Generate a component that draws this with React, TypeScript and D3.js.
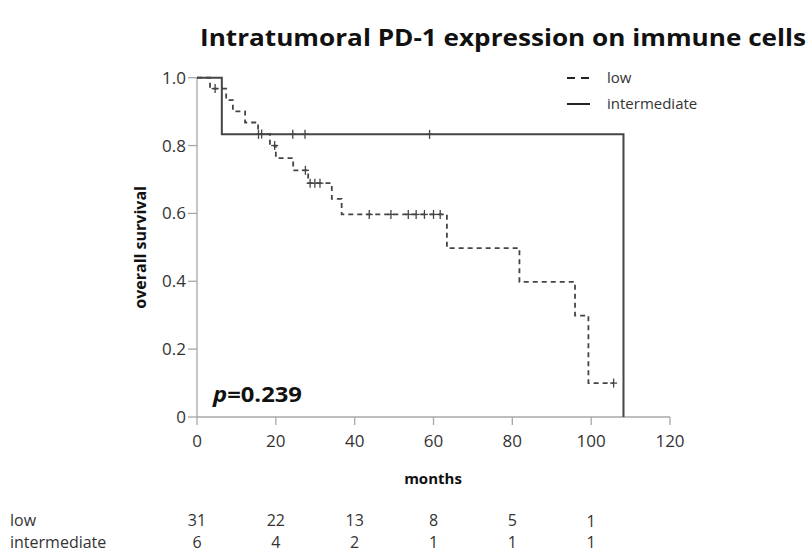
import React from "react";
import * as d3 from "d3";

// ---- data ----
const lowTimes = [0, 3.3, 7.4, 9.1, 12.2, 15.5, 18.5, 20.0, 24.4, 28.2, 34.2, 36.7, 63.4, 81.8, 95.9, 99.3];
const lowSurv = [1, 0.968, 0.934, 0.901, 0.868, 0.834, 0.8, 0.763, 0.727, 0.689, 0.643, 0.597, 0.498, 0.398, 0.299, 0.1];
const lowEnd = 105.7;
const lowCensor = [4.6, 16.4, 19.7, 27.5, 28.7, 29.9, 31.2, 43.7, 49.2, 53.6, 55.6, 57.7, 60.0, 61.7, 105.7];

const intTimes = [0, 6.3, 108.2];
const intSurv = [1, 0.833, 0];
const intEnd = 108.2;
const intCensor = [15.6, 24.3, 27.4, 59.0];

const xTicks = [0, 20, 40, 60, 80, 100, 120];
const yTicks = [0, 0.2, 0.4, 0.6, 0.8, 1.0];
const riskTimes = [0, 20, 40, 60, 80, 100];
const riskLow = [31, 22, 13, 8, 5, 1];
const riskInt = [6, 4, 2, 1, 1, 1];
const groupNames = ["low", "intermediate"];
const title = "Intratumoral PD-1 expression on immune cells";
const pText = "=0.239";

const FONT = "'Open Sans', 'DejaVu Sans', sans-serif";
const LINE = "#454545";
const AXIS = "#a8a8a8";
const TEXT = "#333333";

function stepPoints(times: number[], surv: number[], end: number) {
  const pts: [number, number][] = times.map((t, i) => [t, surv[i]]);
  pts.push([end, surv[surv.length - 1]]);
  return pts;
}
function survAt(times: number[], surv: number[], t: number) {
  let s = surv[0];
  for (let i = 0; i < times.length; i++) if (times[i] <= t) s = surv[i];
  return s;
}

export default function App() {
  const x = d3.scaleLinear().domain([0, 120]).range([197, 670]);
  const y = d3.scaleLinear().domain([0, 1]).range([417, 77.7]);
  const line = d3
    .line<[number, number]>()
    .x((d) => x(d[0]))
    .y((d) => y(d[1]))
    .curve(d3.curveStepAfter);

  const lowPath = line(stepPoints(lowTimes, lowSurv, lowEnd)) || "";
  const intPath = line(stepPoints(intTimes, intSurv, intEnd)) || "";

  const fmtY = (v: number) => (v === 0 ? "0" : d3.format(".1f")(v));

  const censorMark = (t: number, s: number, key: string) => {
    const cx = x(t);
    const cy = y(s);
    return (
      <g key={key} stroke={LINE} strokeWidth={1.3}>
        <line x1={cx} x2={cx} y1={cy - 4.5} y2={cy + 4.5} />
        <line x1={cx - 3.5} x2={cx + 3.5} y1={cy} y2={cy} />
      </g>
    );
  };

  return (
    <svg
      width={809}
      height={558}
      style={{ position: "absolute", left: 0, top: 0, background: "#fff" }}
      fontFamily={FONT}
    >
      <rect x={0} y={0} width={809} height={558} fill="#fff" />
      {/* title */}
      <text x={200} y={46} fontSize={23} fontWeight="bold" fill="#111" textLength={606} lengthAdjust="spacingAndGlyphs">
        {title}
      </text>

      {/* axes */}
      <line x1={x(0)} x2={x(0)} y1={y(1)} y2={y(0)} stroke={AXIS} strokeWidth={1.3} />
      <line x1={x(0)} x2={x(120)} y1={y(0)} y2={y(0)} stroke={AXIS} strokeWidth={1.3} />
      {yTicks.map((v) => (
        <g key={"y" + v}>
          <line x1={x(0) - 9} x2={x(0)} y1={y(v)} y2={y(v)} stroke={AXIS} strokeWidth={1.3} />
          <text x={x(0) - 11} y={y(v)} dy="0.35em" textAnchor="end" fontSize={17} fill={TEXT}>
            {fmtY(v)}
          </text>
        </g>
      ))}
      {xTicks.map((v) => (
        <g key={"x" + v}>
          <line x1={x(v)} x2={x(v)} y1={y(0)} y2={y(0) + 8} stroke={AXIS} strokeWidth={1.3} />
          <text x={x(v)} y={447} textAnchor="middle" fontSize={17} fill={TEXT}>
            {v}
          </text>
        </g>
      ))}

      {/* axis titles */}
      <text x={433} y={484} textAnchor="middle" fontSize={15} fontWeight="bold" fill="#111">
        months
      </text>
      <text
        transform={`translate(146,${(y(0) + y(1)) / 2}) rotate(-90)`}
        textAnchor="middle"
        fontSize={16}
        fontWeight="bold"
        fill="#111"
      >
        overall survival
      </text>

      {/* curves */}
      <path d={intPath} fill="none" stroke={LINE} strokeWidth={2} />
      <path d={lowPath} fill="none" stroke={LINE} strokeWidth={1.8} strokeDasharray="5,4" />
      {lowCensor.map((t, i) => censorMark(t, survAt(lowTimes, lowSurv, t), "lc" + i))}
      {intCensor.map((t, i) => censorMark(t, survAt(intTimes, intSurv, t), "ic" + i))}

      {/* p-value */}
      <text x={213} y={402} fontSize={21} fontWeight="bold" fill="#111" textLength={89} lengthAdjust="spacingAndGlyphs">
        <tspan fontStyle="italic">p</tspan>
        {pText}
      </text>

      {/* legend */}
      <line x1={567} x2={590} y1={78} y2={78} stroke="#222" strokeWidth={2} strokeDasharray="8,6" />
      <text x={607} y={83} fontSize={15} fill={TEXT}>
        {groupNames[0]}
      </text>
      <line x1={567} x2={590} y1={104} y2={104} stroke="#222" strokeWidth={2} />
      <text x={607} y={109} fontSize={15} fill={TEXT}>
        {groupNames[1]}
      </text>

      {/* number at risk */}
      <text x={10} y={526} fontSize={16} fill={TEXT}>
        {groupNames[0]}
      </text>
      <text x={10} y={548} fontSize={16} fill={TEXT}>
        {groupNames[1]}
      </text>
      {riskTimes.map((t, i) => (
        <g key={"r" + t}>
          <text x={x(t)} y={526 + (i === riskTimes.length - 1 ? 1 : 0)} textAnchor="middle" fontSize={16} fill={TEXT}>
            {riskLow[i]}
          </text>
          <text x={x(t)} y={548} textAnchor="middle" fontSize={16} fill={TEXT}>
            {riskInt[i]}
          </text>
        </g>
      ))}
    </svg>
  );
}
